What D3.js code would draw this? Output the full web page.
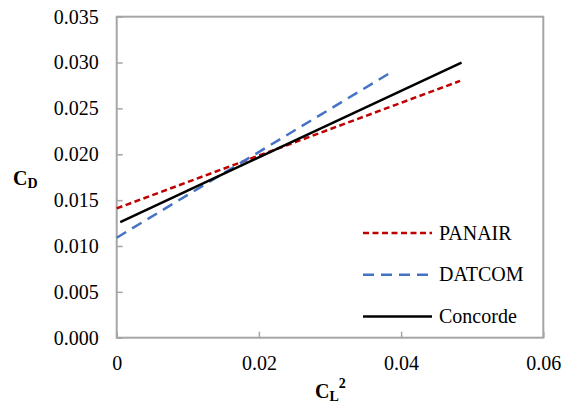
<!DOCTYPE html>
<html>
<head>
<meta charset="utf-8">
<script src="https://cdn.jsdelivr.net/npm/d3@7"></script>
<style>
  body { margin: 0; background: #fff; }
</style>
</head>
<body>
<div id="chart"></div>
<script>
// values
var seriesNames = ["PANAIR", "DATCOM", "Concorde"];
var panairX = [0.0, 0.0483];
var panairY = [0.0141, 0.0280];
var datcomX = [0.0, 0.0385];
var datcomY = [0.0109, 0.0289];
var concordeX = [0.0005, 0.0485];
var concordeY = [0.0126, 0.0300];
var xTicks = [0, 0.02, 0.04, 0.06];
var yTicks = [0, 0.005, 0.010, 0.015, 0.020, 0.025, 0.030, 0.035];

var serif = "'Liberation Serif', 'Times New Roman', 'DejaVu Serif', serif";

var width = 568, height = 411;
var margin = { top: 16.7, right: 24.7, bottom: 73.3, left: 116.7 };
var w = width - margin.left - margin.right;
var h = height - margin.top - margin.bottom;

var svg = d3.select("#chart").append("svg")
  .attr("width", width)
  .attr("height", height)
  .attr("font-family", serif);

var g = svg.append("g")
  .attr("transform", "translate(" + margin.left + "," + margin.top + ")");

var x = d3.scaleLinear().domain([0, 0.06]).range([0, w]);
var y = d3.scaleLinear().domain([0, 0.035]).range([h, 0]);

// plot border
g.append("rect")
  .attr("width", w)
  .attr("height", h)
  .attr("fill", "none")
  .attr("stroke", "#a6a6a6")
  .attr("stroke-width", 2);

var yAxis = g.append("g")
  .call(d3.axisLeft(y).tickValues(yTicks).tickSize(-6).tickPadding(18)
    .tickFormat(d3.format(".3f")));
yAxis.attr("font-family", serif).attr("font-size", 20);
yAxis.select(".domain").remove();
yAxis.selectAll("line").attr("stroke", "#a6a6a6").attr("stroke-width", 1.5);
yAxis.selectAll("text").attr("fill", "#000");

var xAxis = g.append("g")
  .attr("transform", "translate(0," + h + ")")
  .call(d3.axisBottom(x).tickValues(xTicks).tickSize(-6).tickPadding(18)
    .tickFormat(function (d) { return d === 0 ? "0" : d3.format(".2f")(d); }));
xAxis.attr("font-family", serif).attr("font-size", 20);
xAxis.select(".domain").remove();
xAxis.selectAll("line").attr("stroke", "#a6a6a6").attr("stroke-width", 1.5);
xAxis.selectAll("text").attr("fill", "#000");

var series = [
  { name: seriesNames[0], xs: panairX, ys: panairY, color: "#c00000", dash: "6,3.5" },
  { name: seriesNames[1], xs: datcomX, ys: datcomY, color: "#4472c4", dash: "11,7" },
  { name: seriesNames[2], xs: concordeX, ys: concordeY, color: "#000000", dash: null }
];

var line = d3.line()
  .x(function (d) { return x(d[0]); })
  .y(function (d) { return y(d[1]); });

g.selectAll(".series")
  .data(series)
  .enter()
  .append("path")
  .attr("class", "series")
  .attr("fill", "none")
  .attr("stroke", function (d) { return d.color; })
  .attr("stroke-width", 2.5)
  .attr("stroke-dasharray", function (d) { return d.dash; })
  .attr("d", function (d) {
    return line(d.xs.map(function (v, i) { return [v, d.ys[i]]; }));
  });

// legend
var legend = svg.append("g")
  .attr("transform", "translate(363,233)");

var item = legend.selectAll("g")
  .data(series)
  .enter()
  .append("g")
  .attr("transform", function (d, i) { return "translate(0," + (i * 41.8) + ")"; });

item.append("line")
  .attr("x1", 0).attr("x2", 69)
  .attr("stroke", function (d) { return d.color; })
  .attr("stroke-width", 2.5)
  .attr("stroke-dasharray", function (d) { return d.dash; });

item.append("text")
  .attr("x", 76)
  .attr("dy", "0.33em")
  .attr("font-size", 20)
  .text(function (d) { return d.name; });

// axis titles
var yt = svg.append("text")
  .attr("x", 13)
  .attr("y", 185)
  .attr("font-size", 20)
  .attr("font-weight", "bold");
yt.append("tspan").text("C");
yt.append("tspan").attr("font-size", 14).attr("dy", 3).text("D");

var xt = svg.append("text")
  .attr("x", 315)
  .attr("y", 398)
  .attr("font-size", 20)
  .attr("font-weight", "bold");
xt.append("tspan").text("C");
xt.append("tspan").attr("font-size", 14).attr("dy", 3).text("L");
xt.append("tspan").attr("font-size", 14).attr("dy", -13).text("2");
</script>
</body>
</html>
